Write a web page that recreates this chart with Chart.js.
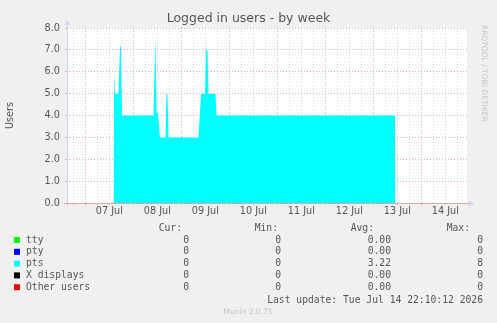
<!DOCTYPE html>
<html>
<head>
<meta charset="utf-8">
<script src="https://cdn.jsdelivr.net/npm/chart.js@4/dist/chart.umd.min.js"></script>
<style>
  body { margin: 0; background: #f0f0f0; }
  canvas { display: block; }
</style>
</head>
<body>
<canvas id="users-chart" width="497" height="323"></canvas>
<script>
/* ============================================
   Logged in users - by week (munin)
   x = hours counted from 06 Jul 00:00
   ============================================ */

const dayLabels = ['07 Jul', '08 Jul', '09 Jul', '10 Jul', '11 Jul', '12 Jul', '13 Jul', '14 Jul'];
const dayNoon = [36, 60, 84, 108, 132, 156, 180, 204];
const yLabels = ['0.0', '1.0', '2.0', '3.0', '4.0', '5.0', '6.0', '7.0', '8.0'];

const ptsHours = [38.1, 38.35, 38.85, 40.6, 41.35, 41.85, 42.35, 58.1, 59.0, 59.7, 60.35, 61.35,
  64.1, 64.6, 65.1, 65.6, 80.6, 81.85, 83.85, 84.35, 85.1, 85.6, 89.1, 89.6, 178.85, 179.1];
const ptsUsers = [0, 5.9, 5.0, 5.0, 7.15, 7.15, 4.0, 4.0, 7.45, 4.15, 4.1, 3.0,
  3.0, 5.0, 5.0, 3.0, 3.0, 5.0, 5.0, 7.0, 7.0, 5.0, 5.0, 4.0, 4.0, 0];

const seriesNames = ['tty', 'pty', 'pts', 'X displays', 'Other users'];
const seriesColors = ['#00ff00', '#0000ff', '#00ffff', '#000000', '#ff0000'];
const curValues = ['0', '0', '0', '0', '0'];
const minValues = ['0', '0', '0', '0', '0'];
const avgValues = ['0.00', '0.00', '3.22', '0.00', '0.00'];
const maxValues = ['0', '0', '8', '0', '0'];

const X_MIN = 14.85;
const X_MAX = 214.85;
const MAJOR = 'rgba(215, 60, 60, 0.4)';
const MINOR = 'rgba(140, 140, 140, 0.32)';
const AXIS = '#cfd6f8';
const FONT = '#555555';

const muninText = {
  id: 'muninText',
  beforeDraw(chart) {
    const { ctx, chartArea: a } = chart;
    ctx.save();
    ctx.fillStyle = '#ffffff';
    ctx.fillRect(a.left, a.top, a.right - a.left, a.bottom - a.top);
    ctx.restore();
  },
  afterDraw(chart) {
    const { ctx, chartArea: a } = chart;
    ctx.save();

    // axes
    ctx.lineWidth = 1;
    ctx.strokeStyle = AXIS;
    ctx.beginPath();
    ctx.moveTo(a.left + 0.5, a.bottom + 3);
    ctx.lineTo(a.left + 0.5, a.top - 5);
    ctx.stroke();
    ctx.strokeStyle = '#e0a4a4';
    ctx.beginPath();
    ctx.moveTo(a.left - 3, a.bottom + 0.5);
    ctx.lineTo(a.right + 2, a.bottom + 0.5);
    ctx.stroke();
    ctx.fillStyle = AXIS;
    ctx.beginPath();
    ctx.moveTo(a.left - 2.5, a.top - 3);
    ctx.lineTo(a.left + 3.5, a.top - 3);
    ctx.lineTo(a.left + 0.5, a.top - 8);
    ctx.fill();
    ctx.beginPath();
    ctx.moveTo(a.right + 2, a.bottom - 2.5);
    ctx.lineTo(a.right + 2, a.bottom + 3.5);
    ctx.lineTo(a.right + 7, a.bottom + 0.5);
    ctx.fill();

    // title
    ctx.fillStyle = FONT;
    ctx.textBaseline = 'middle';
    ctx.textAlign = 'center';
    ctx.font = '12.5px "DejaVu Sans"';
    ctx.fillText('Logged in users - by week', 248.5, 19);

    // unit
    ctx.font = '9.7px "DejaVu Sans"';
    ctx.save();
    ctx.translate(10, (a.top + a.bottom) / 2);
    ctx.rotate(-Math.PI / 2);
    ctx.fillText('Users', 0, 0);
    ctx.restore();

    // watermark
    ctx.save();
    ctx.fillStyle = '#c4c4c4';
    ctx.font = '7.5px "DejaVu Sans"';
    ctx.translate(484, 25);
    ctx.rotate(Math.PI / 2);
    ctx.textAlign = 'left';
    ctx.fillText('RRDTOOL / TOBI OETIKER', 0, 0);
    ctx.restore();

    // legend table
    ctx.font = '9.7px "DejaVu Sans Mono"';
    ctx.textAlign = 'right';
    ctx.fillText('Cur:', 182, 228);
    ctx.fillText('Min:', 278, 228);
    ctx.fillText('Avg:', 374, 228);
    ctx.fillText('Max:', 470, 228);

    seriesNames.forEach((name, i) => {
      const y = 240 + i * 11.8;
      ctx.fillStyle = seriesColors[i];
      ctx.fillRect(14, y - 3, 6, 6);
      ctx.fillStyle = FONT;
      ctx.textAlign = 'left';
      ctx.fillText(name, 26, y);
      ctx.textAlign = 'right';
      ctx.fillText(curValues[i], 189, y);
      ctx.fillText(minValues[i], 281, y);
      ctx.fillText(avgValues[i], 391, y);
      ctx.fillText(maxValues[i], 483, y);
    });

    ctx.fillText('Last update: Tue Jul 14 22:10:12 2026', 483, 300);

    ctx.textAlign = 'center';
    ctx.fillStyle = '#c0c0c0';
    ctx.font = '7.5px "DejaVu Sans"';
    ctx.fillText('Munin 2.0.75', 248, 312);
    ctx.restore();
  },
};

const ctx = document.getElementById('users-chart');

new Chart(ctx, {
  type: 'line',
  data: {
    datasets: [
      {
        label: 'pts',
        data: ptsHours.map((h, i) => ({ x: h, y: ptsUsers[i] })),
        backgroundColor: '#00ffff',
        borderWidth: 0,
        fill: 'origin',
        pointRadius: 0,
        tension: 0,
      },
    ],
  },
  options: {
    responsive: false,
    animation: false,
    devicePixelRatio: 1,
    layout: {
      padding: { left: 0, top: 28, right: 30, bottom: 100 },
    },
    plugins: {
      legend: { display: false },
      title: { display: false },
      tooltip: { enabled: false },
    },
    scales: {
      x: {
        type: 'linear',
        min: X_MIN,
        max: X_MAX,
        z: 1,
        afterFit: (scale) => { scale.height = 20; },
        afterBuildTicks: (scale) => {
          const ticks = [];
          for (let h = 18; h <= 210; h += 6) ticks.push({ value: h });
          scale.ticks = ticks;
        },
        border: { display: false, dash: [1, 2] },
        grid: {
          color: (c) => (c.tick && c.tick.value % 24 === 0 ? MAJOR : MINOR),
          tickLength: 2,
        },
        ticks: {
          autoSkip: false,
          maxRotation: 0,
          padding: 1,
          color: FONT,
          font: { family: 'DejaVu Sans', size: 9.7 },
          callback: (v) => {
            const i = dayNoon.indexOf(v);
            return i >= 0 ? dayLabels[i] : '';
          },
        },
      },
      y: {
        min: 0,
        max: 8,
        z: 1,
        afterFit: (scale) => { scale.width = 67; },
        border: { display: false, dash: [1, 2] },
        grid: {
          color: (c) => (c.tick && Number.isInteger(c.tick.value) ? MAJOR : MINOR),
          tickLength: 2,
        },
        ticks: {
          stepSize: 0.5,
          padding: 5,
          color: FONT,
          font: { family: 'DejaVu Sans', size: 9.7 },
          callback: (v) => (Number.isInteger(v) ? yLabels[v] : ''),
        },
      },
    },
  },
  plugins: [muninText],
});
</script>
</body>
</html>
